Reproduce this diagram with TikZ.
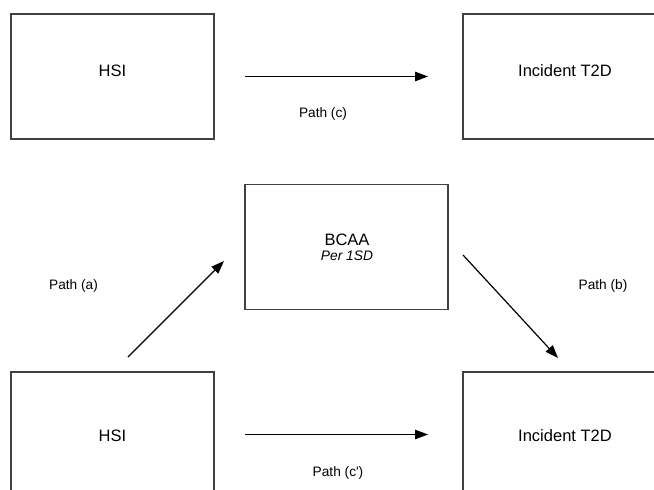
\documentclass[tikz,border=0pt]{standalone}
\usepackage{fontspec}
\setmainfont{Liberation Sans}
\usetikzlibrary{arrows.meta}
\tikzset{
  box/.style={draw=black!75, line width=1.1pt, minimum width=203pt, minimum height=125pt, inner sep=0pt, outer sep=0pt},
  lbl/.style={font=\fontsize{16.5}{19}\selectfont, inner sep=0pt},
  sub/.style={font=\fontsize{13.8}{16}\selectfont\itshape, inner sep=0pt},
  pathlbl/.style={font=\fontsize{13.7}{16}\selectfont, inner sep=0pt},
  arr/.style={draw=black, line width=1.2pt, -{Triangle[length=13pt,width=9.5pt]}}
}
\begin{document}
\begin{tikzpicture}[x=1pt,y=-1pt]
\clip (0,0) rectangle (654,490);
\fill[white] (0,0) rectangle (654,490);
% boxes
\node[box] (hsi1) at (112.5,76.5) {};
\node[box] (t2d1) at (564.5,76.5) {};
\node[box] (bcaa) at (346.5,247) {};
\node[box] (hsi2) at (112.5,434.5) {};
\node[box] (t2d2) at (564.5,434.5) {};
% texts
\node[lbl] (thsi1) at (112.5,71) {HSI};
\node[lbl] (tt2d1) at (565,71) {Incident T2D};
\node[lbl] (tbcaa) at (347,239.5) {BCAA};
\node[sub] (tsd) at (347,255.5) {Per 1SD};
\node[lbl] (thsi2) at (112.5,435.5) {HSI};
\node[lbl] (tt2d2) at (565,435.5) {Incident T2D};
% path labels
\node[pathlbl] (pc) at (323,113.5) {Path (c)};
\node[pathlbl] (pa) at (73.5,285.5) {Path (a)};
\node[pathlbl] (pb) at (603,285.5) {Path (b)};
\node[pathlbl] (pcc) at (338,473) {Path (c\textquotesingle)};
% arrows
\draw[arr, shorten <=31pt, shorten >=35pt] (hsi1.east) -- (t2d1.west);
\draw[arr, shorten <=31pt, shorten >=35pt] (hsi2.east) -- (t2d2.west);
\coordinate (a1) at (128,357);
\coordinate (a2) at (224,261);
\coordinate (b1) at (463,255);
\coordinate (b2) at (558,358);
\draw[arr] (a1) -- (a2);
\draw[arr] (b1) -- (b2);
\end{tikzpicture}
\end{document}
